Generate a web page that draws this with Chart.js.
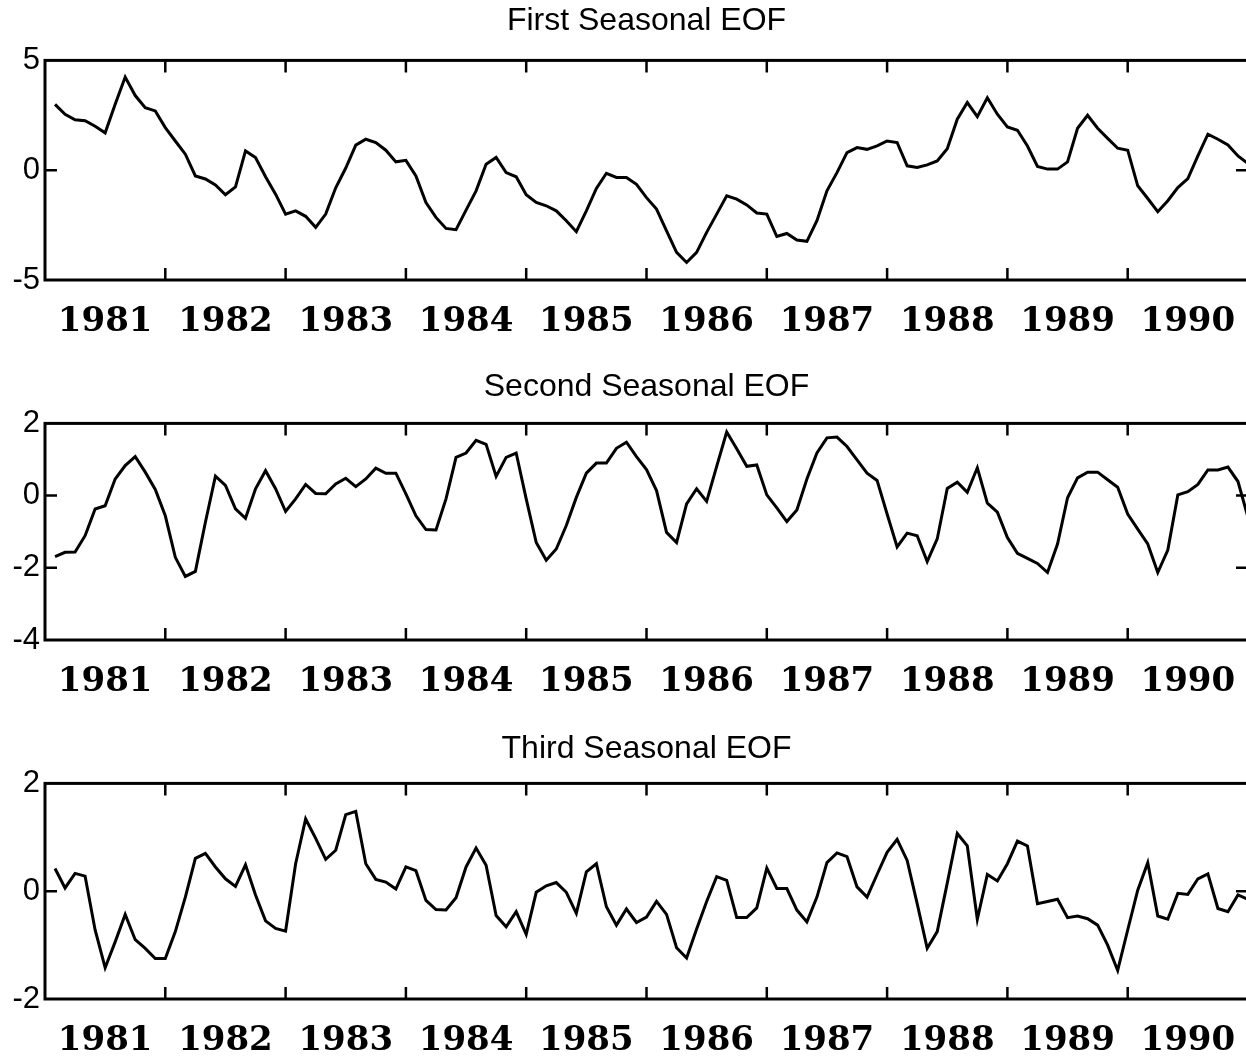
<!DOCTYPE html>
<html>
<head>
<meta charset="utf-8">
<script src="https://cdn.jsdelivr.net/npm/chart.js@4.4.1/dist/chart.umd.min.js"></script>
<style>
    html, body { margin: 0; padding: 0; background: #fff; overflow: hidden; width: 1246px; height: 1059px; }
    canvas { position: absolute; left: 0; }
</style>
</head>
<body>
<canvas id="eof1" width="1248" height="350" style="top:0px"></canvas>
<canvas id="eof2" width="1248" height="360" style="top:350px"></canvas>
<canvas id="eof3" width="1248" height="349" style="top:710px"></canvas>
<script>
// Years on the axis, one value per month (Jan..Dec) in each row
const years = [1981, 1982, 1983, 1984, 1985, 1986, 1987, 1988, 1989, 1990];

const firstEOF = [
    3.0, 2.55, 2.3, 2.25, 2.0, 1.7, 3.0, 4.24, 3.4, 2.85, 2.7, 1.94,
    1.33, 0.73, -0.26, -0.4, -0.67, -1.12, -0.76, 0.88, 0.58, -0.3, -1.09, -2.0,
    -1.85, -2.1, -2.6, -2.0, -0.8, 0.1, 1.14, 1.41, 1.26, 0.91, 0.38, 0.45,
    -0.26, -1.47, -2.15, -2.65, -2.71, -1.82, -0.94, 0.27, 0.58, -0.11, -0.3, -1.12,
    -1.47, -1.62, -1.85, -2.3, -2.8, -1.85, -0.83, -0.14, -0.33, -0.33, -0.64, -1.25,
    -1.77, -2.76, -3.74, -4.2, -3.74, -2.83, -2.0, -1.17, -1.32, -1.58, -1.95, -2.0,
    -3.02, -2.88, -3.18, -3.24, -2.3, -0.94, -0.11, 0.8, 1.03, 0.95, 1.11, 1.33,
    1.26, 0.2, 0.12, 0.24, 0.42, 0.98, 2.32, 3.08, 2.44, 3.3, 2.55, 1.97,
    1.82, 1.1, 0.17, 0.05, 0.05, 0.38, 1.91, 2.5, 1.91, 1.45, 1.0, 0.91,
    -0.71, -1.29, -1.89, -1.39, -0.79, -0.38, 0.65, 1.64, 1.41, 1.15, 0.65, 0.3
];

const secondEOF = [
    -1.69, -1.57, -1.56, -1.11, -0.37, -0.28, 0.46, 0.83, 1.08, 0.65, 0.17, -0.56,
    -1.71, -2.24, -2.1, -0.74, 0.54, 0.28, -0.37, -0.63, 0.19, 0.69, 0.19, -0.44,
    -0.09, 0.31, 0.06, 0.05, 0.32, 0.48, 0.25, 0.46, 0.76, 0.62, 0.62, 0.05,
    -0.56, -0.94, -0.95, -0.09, 1.06, 1.18, 1.53, 1.42, 0.53, 1.06, 1.18, -0.09,
    -1.3, -1.79, -1.48, -0.83, -0.05, 0.62, 0.9, 0.9, 1.31, 1.48, 1.08, 0.72,
    0.14, -1.02, -1.3, -0.23, 0.19, -0.16, 0.81, 1.76, 1.3, 0.81, 0.85, 0.02,
    -0.34, -0.72, -0.4, 0.46, 1.18, 1.6, 1.62, 1.36, 0.99, 0.62, 0.42, -0.51,
    -1.42, -1.04, -1.11, -1.83, -1.2, 0.2, 0.37, 0.09, 0.77, -0.21, -0.46, -1.16,
    -1.6, -1.74, -1.88, -2.13, -1.34, -0.06, 0.49, 0.65, 0.65, 0.44, 0.23, -0.51,
    -0.93, -1.34, -2.13, -1.51, 0.02, 0.11, 0.31, 0.71, 0.71, 0.79, 0.39, -0.6
];

const thirdEOF = [
    0.42, 0.06, 0.33, 0.28, -0.72, -1.42, -0.94, -0.43, -0.9, -1.06, -1.25, -1.25,
    -0.75, -0.11, 0.61, 0.7, 0.45, 0.23, 0.09, 0.49, -0.07, -0.55, -0.69, -0.74,
    0.51, 1.34, 0.98, 0.59, 0.76, 1.42, 1.48, 0.51, 0.22, 0.17, 0.04, 0.45,
    0.38, -0.17, -0.34, -0.35, -0.12, 0.45, 0.8, 0.48, -0.45, -0.66, -0.38, -0.8,
    -0.02, 0.1, 0.16, -0.02, -0.41, 0.36, 0.51, -0.29, -0.63, -0.33, -0.58, -0.48,
    -0.19, -0.43, -1.05, -1.24, -0.7, -0.19, 0.27, 0.2, -0.49, -0.49, -0.31, 0.43,
    0.05, 0.05, -0.35, -0.57, -0.11, 0.53, 0.71, 0.64, 0.08, -0.11, 0.31, 0.72,
    0.96, 0.57, -0.23, -1.06, -0.75, 0.15, 1.07, 0.84, -0.52, 0.31, 0.19, 0.51,
    0.93, 0.84, -0.23, -0.19, -0.15, -0.49, -0.46, -0.51, -0.63, -1.0, -1.47, -0.72,
    0.02, 0.53, -0.46, -0.52, -0.04, -0.06, 0.23, 0.32, -0.32, -0.38, -0.07, -0.15
];

// month i sits at year + (month+1)/12, so December lands on the next year's boundary
function toPoints(values) {
    return values.map((v, i) => ({ x: years[0] + (i + 1) / 12, y: v }));
}

// Box around the plot plus short inward tick marks, like the original
const framePlugin = {
    id: 'frame',
    afterDraw(chart) {
        const { ctx, chartArea: a, scales: { x, y } } = chart;
        ctx.save();
        ctx.strokeStyle = '#000';
        ctx.lineWidth = 3;
        ctx.strokeRect(a.left, a.top, a.right - a.left, a.bottom - a.top);
        ctx.lineWidth = 2.5;
        ctx.beginPath();
        years.slice(1).forEach(yr => {
            const px = x.getPixelForValue(yr);
            ctx.moveTo(px, a.bottom); ctx.lineTo(px, a.bottom - 12);
            ctx.moveTo(px, a.top); ctx.lineTo(px, a.top + 12);
        });
        y.ticks.forEach(t => {
            if (t.value === y.min || t.value === y.max) return;
            const py = y.getPixelForValue(t.value);
            ctx.moveTo(a.left, py); ctx.lineTo(a.left + 12, py);
            ctx.moveTo(a.right, py); ctx.lineTo(a.right - 12, py);
        });
        ctx.stroke();
        ctx.restore();
    }
};

function makeChart(id, title, values, yMin, yMax, step, titlePad, axisHeight) {
    new Chart(document.getElementById(id), {
        type: 'line',
        data: {
            datasets: [{
                data: toPoints(values),
                borderColor: '#000',
                borderWidth: 3,
                pointRadius: 0,
                tension: 0,
                fill: false
            }]
        },
        options: {
            responsive: false,
            animation: false,
            events: [],
            layout: { padding: 0 },
            plugins: {
                legend: { display: false },
                tooltip: { enabled: false },
                title: {
                    display: true,
                    fullSize: false,
                    text: title,
                    color: '#000',
                    font: { family: '"Liberation Sans", Arial, sans-serif', size: 32, weight: 'normal' },
                    padding: titlePad
                }
            },
            scales: {
                x: {
                    type: 'linear',
                    min: years[0],
                    max: years[years.length - 1] + 1,
                    grid: { display: false, drawTicks: false },
                    border: { display: false },
                    afterBuildTicks: scale => {
                        scale.ticks = years.map(v => ({ value: v + 0.5 }));
                    },
                    afterFit: scale => {
                        // keep the plot running to the canvas edges
                        scale.height = axisHeight;
                        scale.paddingLeft = 0;
                        scale.paddingRight = 0;
                    },
                    ticks: {
                        autoSkip: false,
                        maxRotation: 0,
                        padding: 22,
                        color: '#000',
                        font: { family: '"DejaVu Serif", serif', size: 34, weight: 'bold' },
                        callback: v => String(Math.floor(v))
                    }
                },
                y: {
                    min: yMin,
                    max: yMax,
                    grid: { display: false, drawTicks: false },
                    border: { display: false },
                    afterFit: scale => { scale.width = 45; },
                    ticks: {
                        stepSize: step,
                        padding: 5,
                        color: '#000',
                        font: { family: '"Liberation Sans", Arial, sans-serif', size: 31 }
                    }
                }
            }
        },
        plugins: [framePlugin]
    });
}

makeChart('eof1', 'First Seasonal EOF', firstEOF, -5, 5, 5, { top: 2, bottom: 20 }, 70);
makeChart('eof2', 'Second Seasonal EOF', secondEOF, -4, 2, 2, { top: 18, bottom: 17 }, 70);
makeChart('eof3', 'Third Seasonal EOF', thirdEOF, -2, 2, 2, { top: 20, bottom: 15 }, 60);
</script>
</body>
</html>
